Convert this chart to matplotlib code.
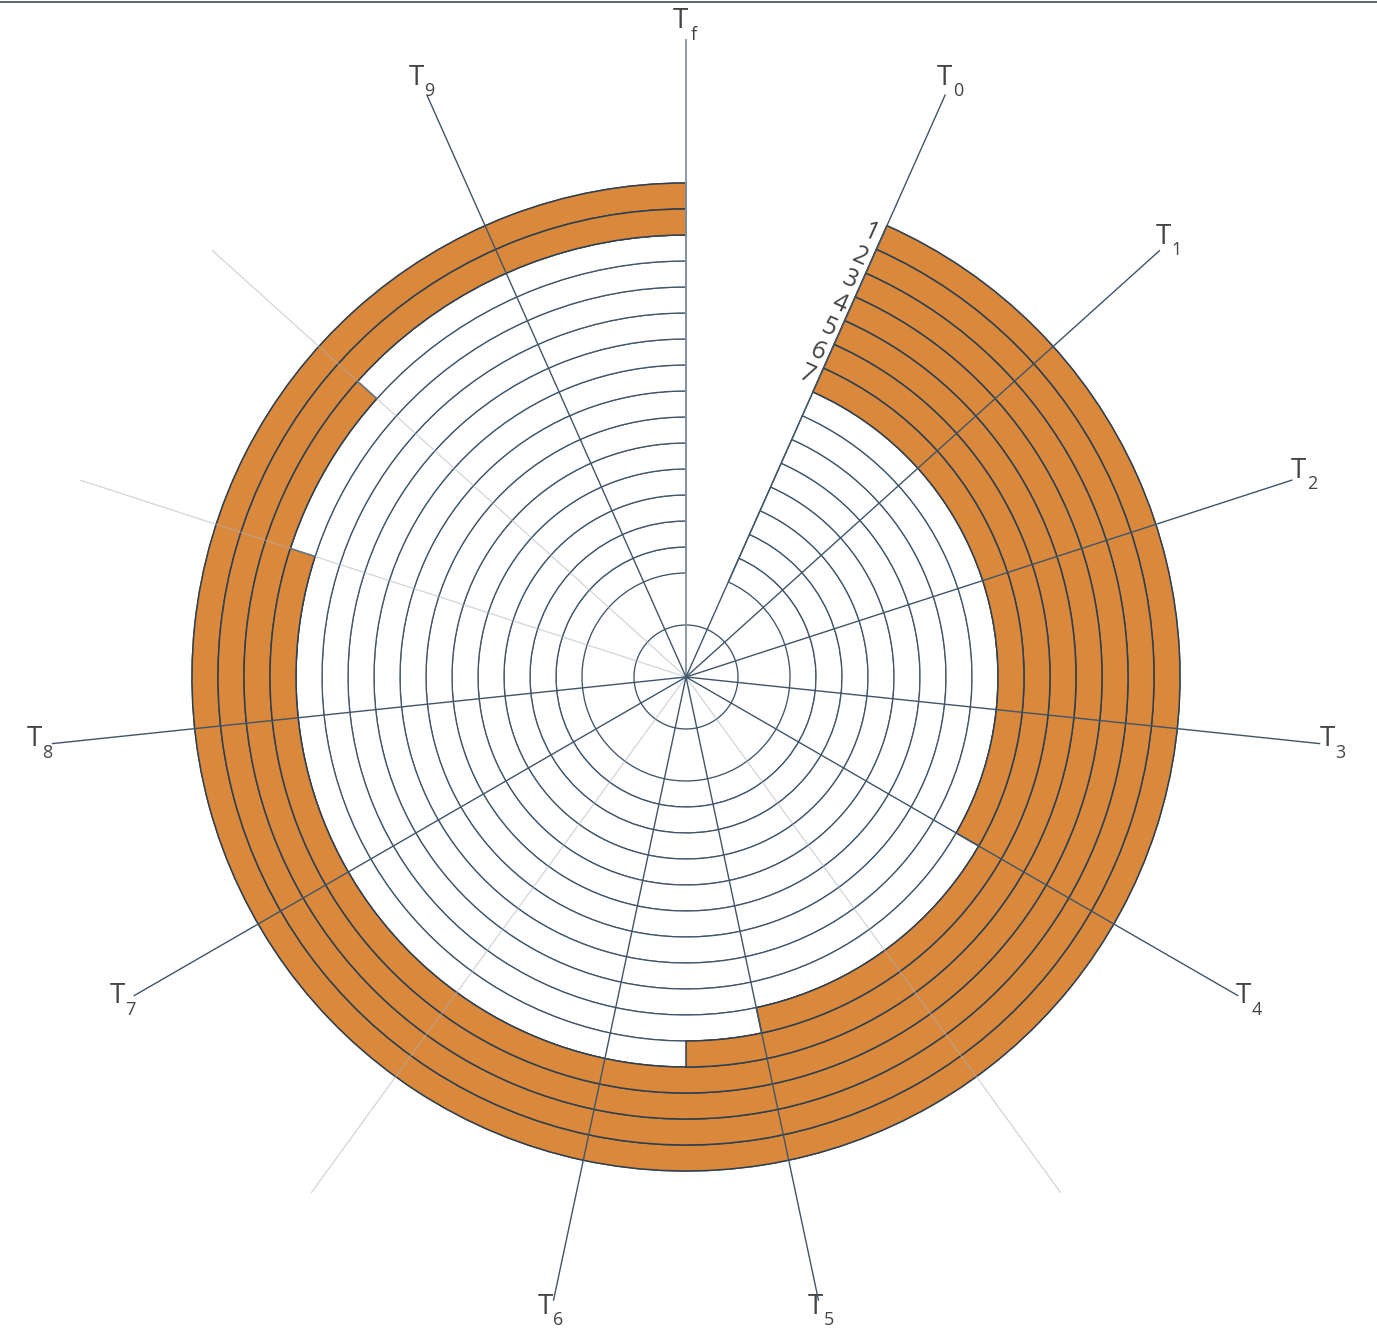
import numpy as np
import matplotlib.pyplot as plt
from matplotlib.lines import Line2D

plt.rcParams['font.family'] = ['Open Sans', 'DejaVu Sans']

# data
ring_labels = ['1', '2', '3', '4', '5', '6', '7']
bar_start = 24
bar_end = [360, 360, 312, 288, 180, 168, 120]
tick_angles = [0, 24, 48, 72, 96, 120, 168, 192, 240, 264, 336]
tick_names = ['f', '0', '1', '2', '3', '4', '5', '6', '7', '8', '9']
minor_angles = [144, 216, 288, 312]
inner_r = 4
outer_r = 19
hole_r = 2
line_r = 24.5

orange = '#da883b'
edge = '#2e4050'
grid_col = '#3f5569'

fig = plt.figure(figsize=(13.77, 13.36), dpi=100)
rpx = line_r * 26.0
cx, cy = 686, 677
ax = fig.add_axes([(cx - rpx) / 1377, (1336 - cy - rpx) / 1336,
                   2 * rpx / 1377, 2 * rpx / 1336], projection='polar')
ax.set_theta_zero_location('N')
ax.set_theta_direction(-1)
ax.set_ylim(0, line_r)
ax.grid(False)
ax.set_xticks([])
ax.set_yticks([])
ax.spines['polar'].set_visible(False)

# empty rings
for r in range(inner_r, outer_r):
    ax.bar(np.radians(bar_start), 1, width=np.radians(360 - bar_start), bottom=r,
           align='edge', color='white', edgecolor=grid_col, lw=0.95, zorder=1)

# orange bars, outermost first
for i, end in enumerate(bar_end):
    ax.bar(np.radians(bar_start), 1, width=np.radians(end - bar_start),
           bottom=outer_r - 1 - i, align='edge', color=orange,
           edgecolor=edge, lw=1.1, zorder=2)
    ax.annotate(ring_labels[i], xy=(np.radians(bar_start), outer_r - 0.5 - i),
                xytext=(-3, 1.3), textcoords='offset points', rotation=-24,
                rotation_mode='anchor', ha='right', va='center', fontsize=18,
                color='#444444', zorder=6)

th = np.linspace(0, 2 * np.pi, 400)
ax.plot(th, np.full_like(th, hole_r), color=grid_col, lw=0.95, zorder=3)

for a in minor_angles:
    ax.plot([np.radians(a)] * 2, [0, line_r], color='#aab4bd', alpha=0.55,
            lw=0.9, zorder=4, clip_on=False)

for a, n in zip(tick_angles, tick_names):
    col = '#8292a2' if a == 0 else grid_col
    ax.plot([np.radians(a)] * 2, [0, line_r], color=col, lw=1.0 if a else 1.3,
            zorder=4, clip_on=False)
    pos = (np.radians(a), 25.0)
    ax.annotate('T', xy=pos, xytext=(-4, 4), textcoords='offset points',
                ha='center', va='center', fontsize=20, color='#444444',
                annotation_clip=False)
    ax.annotate(n, xy=pos, xytext=(5.5, -5.5), textcoords='offset points',
                ha='center', va='center', fontsize=13, color='#444444',
                annotation_clip=False)

fig.add_artist(Line2D([0, 1], [0.9985, 0.9985], color='#3d4f5e', lw=1.2))

fig.savefig('out.png', dpi=100, facecolor='white')
